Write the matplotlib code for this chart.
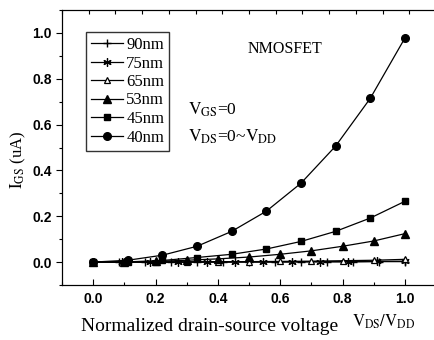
#!/usr/bin/env python3

import matplotlib
matplotlib.use('Agg')
import matplotlib.pyplot as plt
import numpy as np

# data
x40 = np.arange(10) / 9
y40 = [0.0, 0.008, 0.03, 0.069, 0.134, 0.222, 0.344, 0.506, 0.714, 0.977]
x45 = np.arange(10) / 9
y45 = [0.0, 0.001, 0.007, 0.02, 0.034, 0.057, 0.09, 0.134, 0.192, 0.265]
x53 = np.arange(11) / 10
y53 = [0.0, 0.0, 0.003, 0.008, 0.014, 0.022, 0.034, 0.049, 0.069, 0.092, 0.124]
x65 = np.arange(11) / 10
y65 = [0.0, 0.0, 0.0, 0.001, 0.002, 0.002, 0.003, 0.004, 0.006, 0.008, 0.012]
x75 = np.arange(12) / 11
y75 = [0.0, 0.0, 0.0, 0.0, 0.0, 0.001, 0.001, 0.001, 0.002, 0.002, 0.003, 0.004]
x90 = np.arange(13) / 12
y90 = [0.0, 0.0, 0.0, 0.0, 0.0, 0.0, 0.0, 0.0, 0.001, 0.001, 0.001, 0.002, 0.002]

plt.rcParams['font.family'] = 'Liberation Serif'
plt.rcParams['mathtext.fontset'] = 'stix'

fig = plt.figure(figsize=(4.34, 3.4), dpi=100)
ax = fig.add_axes([62/434, 55/340, 374/434, 275/340])

ms = 5
ax.plot(x90, y90, 'k-', marker='+', ms=6, mew=1, lw=0.9, label='90nm')
ax.plot(x75, y75, 'k-', marker=(6, 2, 0), ms=6, mew=0.9, lw=0.9, label='75nm')
ax.plot(x65, y65, 'k-', marker='^', ms=ms, mfc='white', mew=0.9, lw=0.9, label='65nm')
ax.plot(x53, y53, 'k-', marker='^', ms=ms+0.5, lw=0.9, label='53nm')
ax.plot(x45, y45, 'k-', marker='s', ms=ms-0.5, lw=0.9, label='45nm')
ax.plot(x40, y40, 'k-', marker='o', ms=ms+0.5, lw=0.9, label='40nm')

ax.set_xlim(-0.1, 1.1)
ax.set_ylim(-0.1, 1.1)
ax.set_xticks(np.arange(0, 1.01, 0.2))
ax.set_xticks(np.arange(-0.1, 1.1, 0.1), minor=True)
ax.set_yticks(np.arange(0, 1.01, 0.2))
ax.set_yticks(np.arange(-0.1, 1.1, 0.1), minor=True)
ax.xaxis.set_major_formatter(matplotlib.ticker.FormatStrFormatter('%.1f'))
ax.yaxis.set_major_formatter(matplotlib.ticker.FormatStrFormatter('%.1f'))
ax.tick_params(axis='x', which='both', direction='in')
ax.tick_params(axis='y', which='both', direction='out')
ax.tick_params(which='major', length=4, width=0.8)
ax.tick_params(which='minor', length=2.5, width=0.8)
for lab in ax.get_xticklabels() + ax.get_yticklabels():
	lab.set_family('Liberation Sans')
	lab.set_weight('bold')
	lab.set_fontsize(10)
ax.tick_params(axis='x', pad=5)

top = ax.twiny()
top.set_xlim(0, 1)
top.set_xticks(np.linspace(0, 1, 15))
top.tick_params(direction='in', length=3, labeltop=False)

ax.set_xlabel('Normalized drain-source voltage', fontsize=14, labelpad=4)
ax.xaxis.set_label_coords(0.395, -0.12)
fig.text(352/434, 1 - 327/340, r'$\mathrm{V_{DS}/V_{DD}}$', fontsize=12, va='baseline')
ax.set_ylabel(r'$\mathrm{I_{GS}}$ (uA)', fontsize=12)
ax.yaxis.set_label_coords(-0.09, 0.455)

ax.text(0.497, 0.93, 'NMOSFET', fontsize=11.5, va='center')
ax.text(0.305, 0.665, r'$\mathrm{V_{GS}}$=0', fontsize=12.5, va='center')
ax.text(0.305, 0.545, r'$\mathrm{V_{DS}}$=0~$\mathrm{V_{DD}}$', fontsize=12.5, va='center')

ax.legend(loc='upper left', bbox_to_anchor=(0.065, 0.92), fontsize=12, frameon=True,
	fancybox=False, edgecolor='black', handlelength=1.9, handletextpad=0.2,
	labelspacing=0.15, borderpad=0.3, borderaxespad=0)

fig.savefig('out.png', dpi=100)
